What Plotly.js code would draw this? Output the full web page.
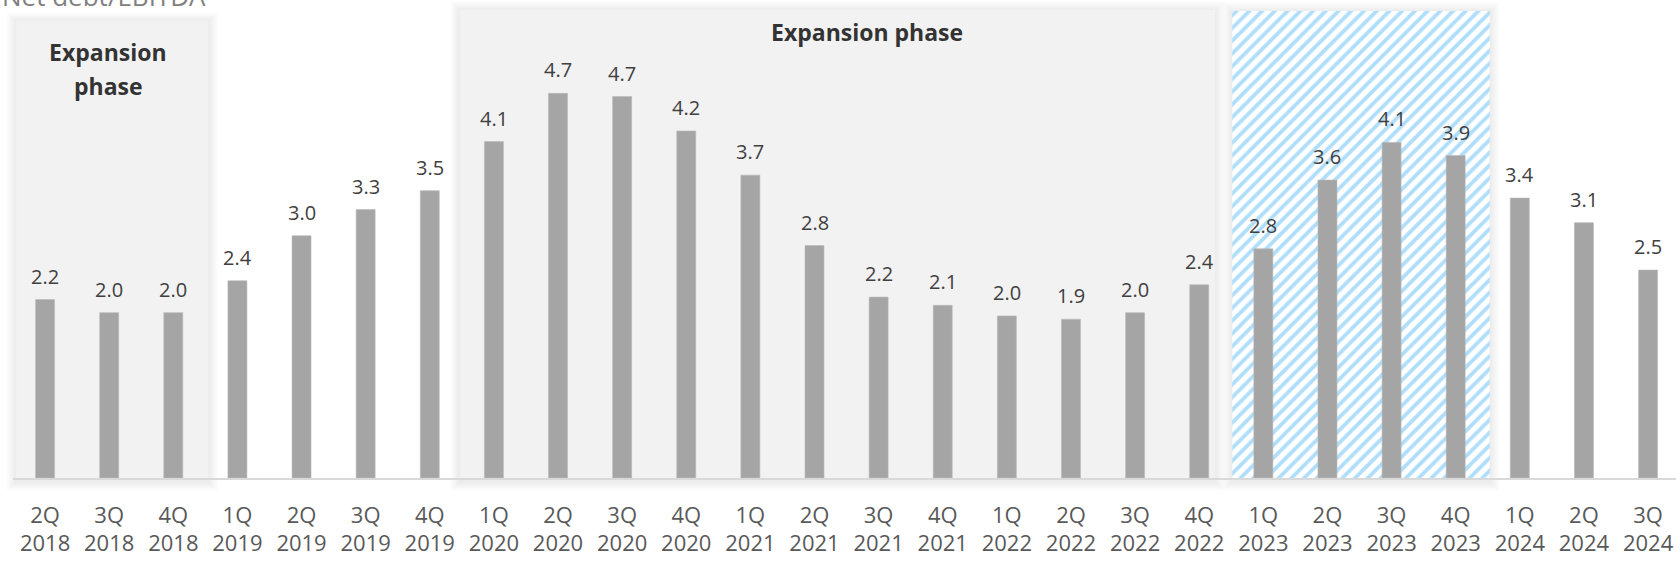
<!DOCTYPE html>
<html>
<head>
<meta charset="utf-8">
<script src="https://cdn.plot.ly/plotly-3.0.1.min.js"></script>
<style>html,body{margin:0;padding:0;background:#fff;}#chart{width:1676px;height:561px;}</style>
</head>
<body>
<div id="chart"></div>
<script>
// ---- data ----
const quarters = ['2Q','3Q','4Q','1Q','2Q','3Q','4Q','1Q','2Q','3Q','4Q','1Q','2Q','3Q','4Q','1Q','2Q','3Q','4Q','1Q','2Q','3Q','4Q','1Q','2Q','3Q'];
const years = ['2018','2018','2018','2019','2019','2019','2019','2020','2020','2020','2020','2021','2021','2021','2021','2022','2022','2022','2022','2023','2023','2023','2023','2024','2024','2024'];
const netDebtToEbitda = [2.18,2.02,2.02,2.41,2.96,3.28,3.51,4.11,4.70,4.66,4.24,3.70,2.84,2.21,2.11,1.98,1.94,2.02,2.36,2.80,3.64,4.10,3.94,3.42,3.12,2.54];
const chartTitle = 'Net debt/EBITDA';
const phaseTitle = 'Expansion phase';
const expansionPhases = [[0, 2], [7, 18]];   // first / last quarter index
const highlightedQuarters = [19, 22];          // hatched period

// ---- geometry ----
const W = 1676, H = 561;
const M = {l: 13, r: 0, t: 0, b: 83};
const PW = W - M.l - M.r, PH = H - M.t - M.b;
const PX_PER_CAT = 64.12, PX_PER_UNIT = 81.85;
const xRange = [-0.5, -0.5 + PW / PX_PER_CAT];
const yRange = [0, PH / PX_PER_UNIT];
const idx = quarters.map((_, i) => i);
const catPx = i => M.l + (i - xRange[0]) * PX_PER_CAT;
const paperX = p => (p - M.l) / PW;
const paperY = p => (PH - p) / PH;
const dataY = p => (PH - p) / PX_PER_UNIT;
const dataX = p => (p - M.l) / PX_PER_CAT + xRange[0];

function shadow(x0, x1, y0, y1) {
  const s = [];
  for (let k = 1; k <= 10; k++) {
    s.push({type: 'rect', layer: 'below', xref: 'paper', yref: 'paper',
      x0: paperX(x0 - k), x1: paperX(x1 + k), y0: paperY(y1 + k + 3), y1: paperY(y0 - k + 1),
      fillcolor: 'rgba(0,0,0,0.009)', line: {width: 0}});
  }
  return s;
}

const shapes = [];
const boxes = [
  {x0: catPx(expansionPhases[0][0]) - 29, x1: catPx(expansionPhases[0][1]) + 35, top: 21},
  {x0: catPx(expansionPhases[1][0]) - 34, x1: catPx(expansionPhases[1][1]) + 16, top: 10}
];
boxes.forEach(b => {
  shapes.push(...shadow(b.x0, b.x1, b.top, PH));
  shapes.push({type: 'rect', layer: 'below', xref: 'paper', yref: 'paper',
    x0: paperX(b.x0), x1: paperX(b.x1), y0: paperY(PH), y1: paperY(b.top),
    fillcolor: '#f2f2f2', line: {width: 0}});
});
const hx0 = catPx(highlightedQuarters[0]) - 31, hx1 = catPx(highlightedQuarters[1]) + 34, htop = 11;
shapes.push(...shadow(hx0, hx1, htop, PH));

const hatch = {
  type: 'bar', x: [(dataX(hx0) + dataX(hx1)) / 2], y: [dataY(htop)], width: [dataX(hx1) - dataX(hx0)],
  marker: {color: '#ffffff', line: {width: 0},
    pattern: {shape: '/', fgcolor: '#afdefb', bgcolor: '#ffffff', size: 9, solidity: 0.42}},
  hoverinfo: 'skip', showlegend: false
};

const bars = {
  type: 'bar', x: idx, y: netDebtToEbitda, width: 0.296,
  marker: {color: '#a5a5a5', line: {color: '#b8b8b8', width: 0.6}},
  hoverinfo: 'x+y', showlegend: false
};

const yearAnchor = {
  type: 'scatter', mode: 'markers', x: idx, y: netDebtToEbitda, xaxis: 'x2', yaxis: 'y',
  marker: {opacity: 0, size: 1}, hoverinfo: 'skip', showlegend: false
};

const annotations = netDebtToEbitda.map((v, i) => ({
  xref: 'x', yref: 'y', x: i, y: v, text: v.toFixed(1), showarrow: false,
  yanchor: 'bottom', yshift: 8, font: {family: 'Open Sans', size: 20, color: '#404040'}
}));
const titleFont = {family: 'Open Sans', size: 23, color: '#333333', weight: 700};
annotations.push({xref: 'paper', yref: 'paper', x: paperX(867), y: paperY(32), text: phaseTitle,
  showarrow: false, xanchor: 'center', yanchor: 'middle', font: titleFont});
const words = phaseTitle.split(' ');
annotations.push({xref: 'paper', yref: 'paper', x: paperX(108), y: paperY(52), text: words[0],
  showarrow: false, xanchor: 'center', yanchor: 'middle', font: titleFont});
annotations.push({xref: 'paper', yref: 'paper', x: paperX(108), y: paperY(86), text: words[1],
  showarrow: false, xanchor: 'center', yanchor: 'middle', font: titleFont});
annotations.push({xref: 'paper', yref: 'paper', x: paperX(0), y: 1, text: chartTitle,
  showarrow: false, xanchor: 'left', yanchor: 'bottom', yshift: -16, font: {family: 'Open Sans', size: 26, color: '#808080'}});

const tickFont = {family: 'Open Sans', size: 22, color: '#595959'};
const layout = {
  width: W, height: H, margin: M, paper_bgcolor: '#ffffff', plot_bgcolor: '#ffffff',
  barmode: 'overlay', showlegend: false, hovermode: 'closest',
  xaxis: {range: xRange, tickmode: 'array', tickvals: idx, ticktext: quarters, showgrid: false, zeroline: false,
    showline: true, linecolor: '#d9d9d9', linewidth: 1.5, ticks: '', tickfont: tickFont, ticklabelstandoff: 17, fixedrange: true},
  xaxis2: {range: xRange, overlaying: 'x', anchor: 'y', side: 'bottom', tickmode: 'array', tickvals: idx, ticktext: years,
    showgrid: false, zeroline: false, showline: false, ticks: '', tickfont: tickFont, ticklabelstandoff: 50, fixedrange: true},
  yaxis: {range: yRange, showgrid: false, zeroline: false, showticklabels: false, showline: false, ticks: '', fixedrange: true},
  shapes: shapes, annotations: annotations
};

Plotly.newPlot('chart', [hatch, bars, yearAnchor], layout, {displayModeBar: false, staticPlot: true});
</script>
</body>
</html>
